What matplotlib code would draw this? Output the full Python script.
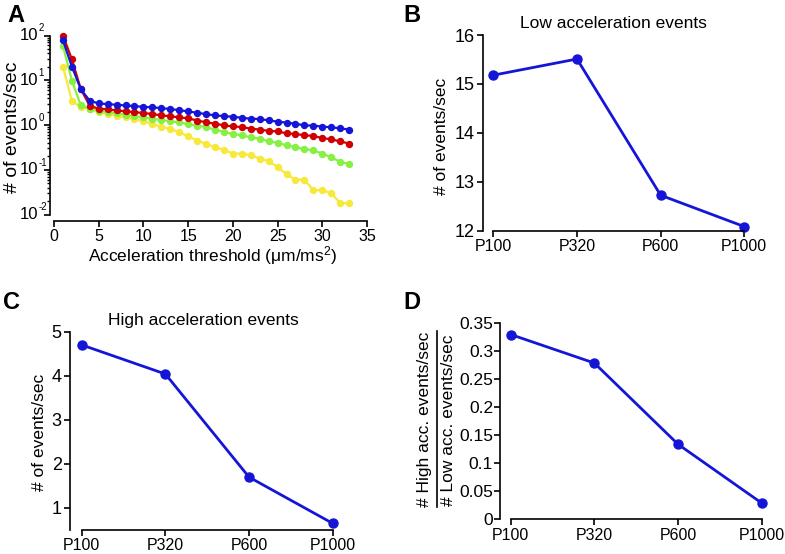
import matplotlib
matplotlib.use('Agg')
import matplotlib.pyplot as plt
from matplotlib.lines import Line2D
from matplotlib.ticker import LogLocator, NullFormatter
from matplotlib.transforms import blended_transform_factory

plt.rcParams['font.family'] = ['Liberation Sans', 'DejaVu Sans']
plt.rcParams['mathtext.fontset'] = 'custom'
plt.rcParams['mathtext.rm'] = 'Liberation Sans'
plt.rcParams['mathtext.default'] = 'regular'

W, H = 785, 554

# panel A: events/sec vs acceleration threshold, one series per age
thresh = list(range(1, 34))
red = [100, 29.3, 6.3, 2.69, 2.31, 2.23, 2.12, 2.01, 1.94, 1.85, 1.76, 1.64, 1.56, 1.48, 1.41, 1.26,
       1.15, 1.07, 0.98, 0.93, 0.90, 0.83, 0.79, 0.74, 0.72, 0.65, 0.63, 0.59, 0.57, 0.51, 0.48, 0.43, 0.385]
blue = [78.7, 20.1, 6.3, 3.47, 3.03, 2.93, 2.83, 2.73, 2.64, 2.55, 2.47, 2.39, 2.27, 2.15, 2.01, 1.88,
        1.75, 1.64, 1.58, 1.53, 1.45, 1.38, 1.36, 1.27, 1.19, 1.13, 1.07, 0.98, 0.97, 0.92, 0.89, 0.84, 0.79]
green = [58.9, 9.8, 2.73, 2.31, 2.08, 1.94, 1.82, 1.70, 1.58, 1.48, 1.38, 1.29, 1.21, 1.15, 1.05, 0.97,
         0.90, 0.79, 0.70, 0.63, 0.59, 0.53, 0.49, 0.43, 0.40, 0.35, 0.32, 0.29, 0.27, 0.23, 0.19, 0.149, 0.135]
yellow = [20.1, 3.47, 2.47, 2.31, 1.91, 1.76, 1.61, 1.48, 1.36, 1.21, 1.05, 0.92, 0.81, 0.69, 0.56, 0.45,
          0.38, 0.32, 0.28, 0.23, 0.23, 0.21, 0.178, 0.156, 0.115, 0.079, 0.060, 0.060, 0.035, 0.035, 0.030, 0.018, 0.018]
decades = [2, 1, 0, -1, -2]

# panels B-D
ages = ['P100', 'P320', 'P600', 'P1000']
low_acc = [15.18, 15.51, 12.73, 12.09]
high_acc = [4.70, 4.04, 1.70, 0.65]
ratio = [0.330, 0.279, 0.134, 0.029]

BLUE = '#1515d8'
fs = 12.5


def px_box(x0, y0, x1, y1):
    # pixel box (top-left origin) -> figure fraction rect
    return [x0 / W, 1 - y1 / H, (x1 - x0) / W, (y1 - y0) / H]


def fx(x):
    return x / W


def fy(y):
    return 1 - y / H


def style(ax):
    for s in ['top', 'right']:
        ax.spines[s].set_visible(False)
    for s in ['left', 'bottom']:
        ax.spines[s].set_linewidth(1.2)
    ax.tick_params(direction='out', length=4, width=1.2, pad=2)
    ax.tick_params(axis='x', labelsize=11.5)
    ax.tick_params(axis='y', labelsize=13)


fig = plt.figure(figsize=(W / 100, H / 100), dpi=100)

# ---- A
axA = fig.add_axes(px_box(54, 35.5, 367, 214.5))
style(axA)
for ys, c in [(yellow, '#f7e93a'), (green, '#86f043'), (red, '#d00000'), (blue, BLUE)]:
    axA.plot(thresh, ys, color=c, lw=1.6, marker='o', ms=4.3, clip_on=False)
axA.set_yscale('log')
axA.set_ylim(0.01, 100)
axA.set_xlim(0, 35)
axA.set_xticks(range(0, 36, 5))
axA.set_yticks([10.0 ** k for k in decades])
axA.set_yticklabels([])
axA.yaxis.set_minor_locator(LogLocator(base=10, subs=range(2, 10), numticks=20))
axA.yaxis.set_minor_formatter(NullFormatter())
axA.tick_params(which='minor', length=2.5, width=1)
axA.spines['left'].set_position(('outward', 3))
axA.spines['bottom'].set_position(('outward', 4.5))
# "10" with a small raised exponent, like the original
tr = blended_transform_factory(fig.transFigure, axA.transData)
for k in decades:
    fig.text(fx(38.5), 10.0 ** k, '10', transform=tr, ha='right', va='center', fontsize=12)
    fig.text(fx(38.5), 10.0 ** k * 1.12, str(k), transform=tr, ha='left', va='bottom', fontsize=7)
fig.text(fx(13), fy(127), '# of events/sec', rotation=90, ha='center', va='center', fontsize=14)
fig.text(fx(213), fy(256), 'Acceleration threshold (\u03bcm/ms$^2$)', ha='center', va='center', fontsize=fs)

# ---- B
axB = fig.add_axes(px_box(482.7, 35, 744.3, 231))
style(axB)
axB.plot(range(4), low_acc, color=BLUE, lw=2, marker='o', ms=6.5, clip_on=False)
axB.set_xlim(-0.127, 3)
axB.set_ylim(12, 16)
axB.set_yticks([12, 13, 14, 15, 16])
axB.set_xticks(range(4))
axB.set_xticklabels(ages)
axB.spines['bottom'].set_bounds(0, 3)
fig.text(fx(613), fy(23), 'Low acceleration events', ha='center', va='center', fontsize=fs)
fig.text(fx(442), fy(136), '# of events/sec', rotation=90, ha='center', va='center', fontsize=fs)

# ---- C
axC = fig.add_axes(px_box(70, 331.7, 332.7, 530))
style(axC)
axC.plot(range(4), high_acc, color=BLUE, lw=2, marker='o', ms=6.5, clip_on=False)
axC.set_xlim(-0.14, 3)
axC.set_ylim(0.5, 5)
axC.set_yticks([1, 2, 3, 4, 5])
axC.set_xticks(range(4))
axC.set_xticklabels(ages)
axC.spines['bottom'].set_bounds(0, 3)
fig.text(fx(203), fy(321), 'High acceleration events', ha='center', va='center', fontsize=fs)
fig.text(fx(39.5), fy(432), '# of events/sec', rotation=90, ha='center', va='center', fontsize=fs)

# ---- D
axD = fig.add_axes(px_box(500, 323.3, 761.7, 519.3))
style(axD)
axD.plot(range(4), ratio, color=BLUE, lw=2, marker='o', ms=6.5, clip_on=False)
axD.set_xlim(-0.128, 3)
axD.set_ylim(0, 0.35)
axD.set_yticks([0, 0.05, 0.1, 0.15, 0.2, 0.25, 0.3, 0.35])
axD.set_yticklabels(['0', '0.05', '0.1', '0.15', '0.2', '0.25', '0.3', '0.35'])
axD.tick_params(axis='y', labelsize=12.5, pad=1)
axD.set_xticks(range(4))
axD.set_xticklabels(ages)
axD.spines['bottom'].set_bounds(0, 3)
fig.text(fx(425), fy(419), '# High acc. events/sec', rotation=90, ha='center', va='center', fontsize=fs)
fig.text(fx(448.5), fy(420), '# Low acc. events/sec', rotation=90, ha='center', va='center', fontsize=fs)
fig.add_artist(Line2D([fx(436.7), fx(436.7)], [fy(331), fy(507)], color='black', lw=1.2))

# panel letters
for lab, x, y in [('A', 7, 4), ('B', 403, 4), ('C', 3, 291), ('D', 403, 291)]:
    fig.text(fx(x), fy(y), lab, ha='left', va='top', fontsize=17, fontweight='bold')

fig.savefig('out.png', dpi=100)
